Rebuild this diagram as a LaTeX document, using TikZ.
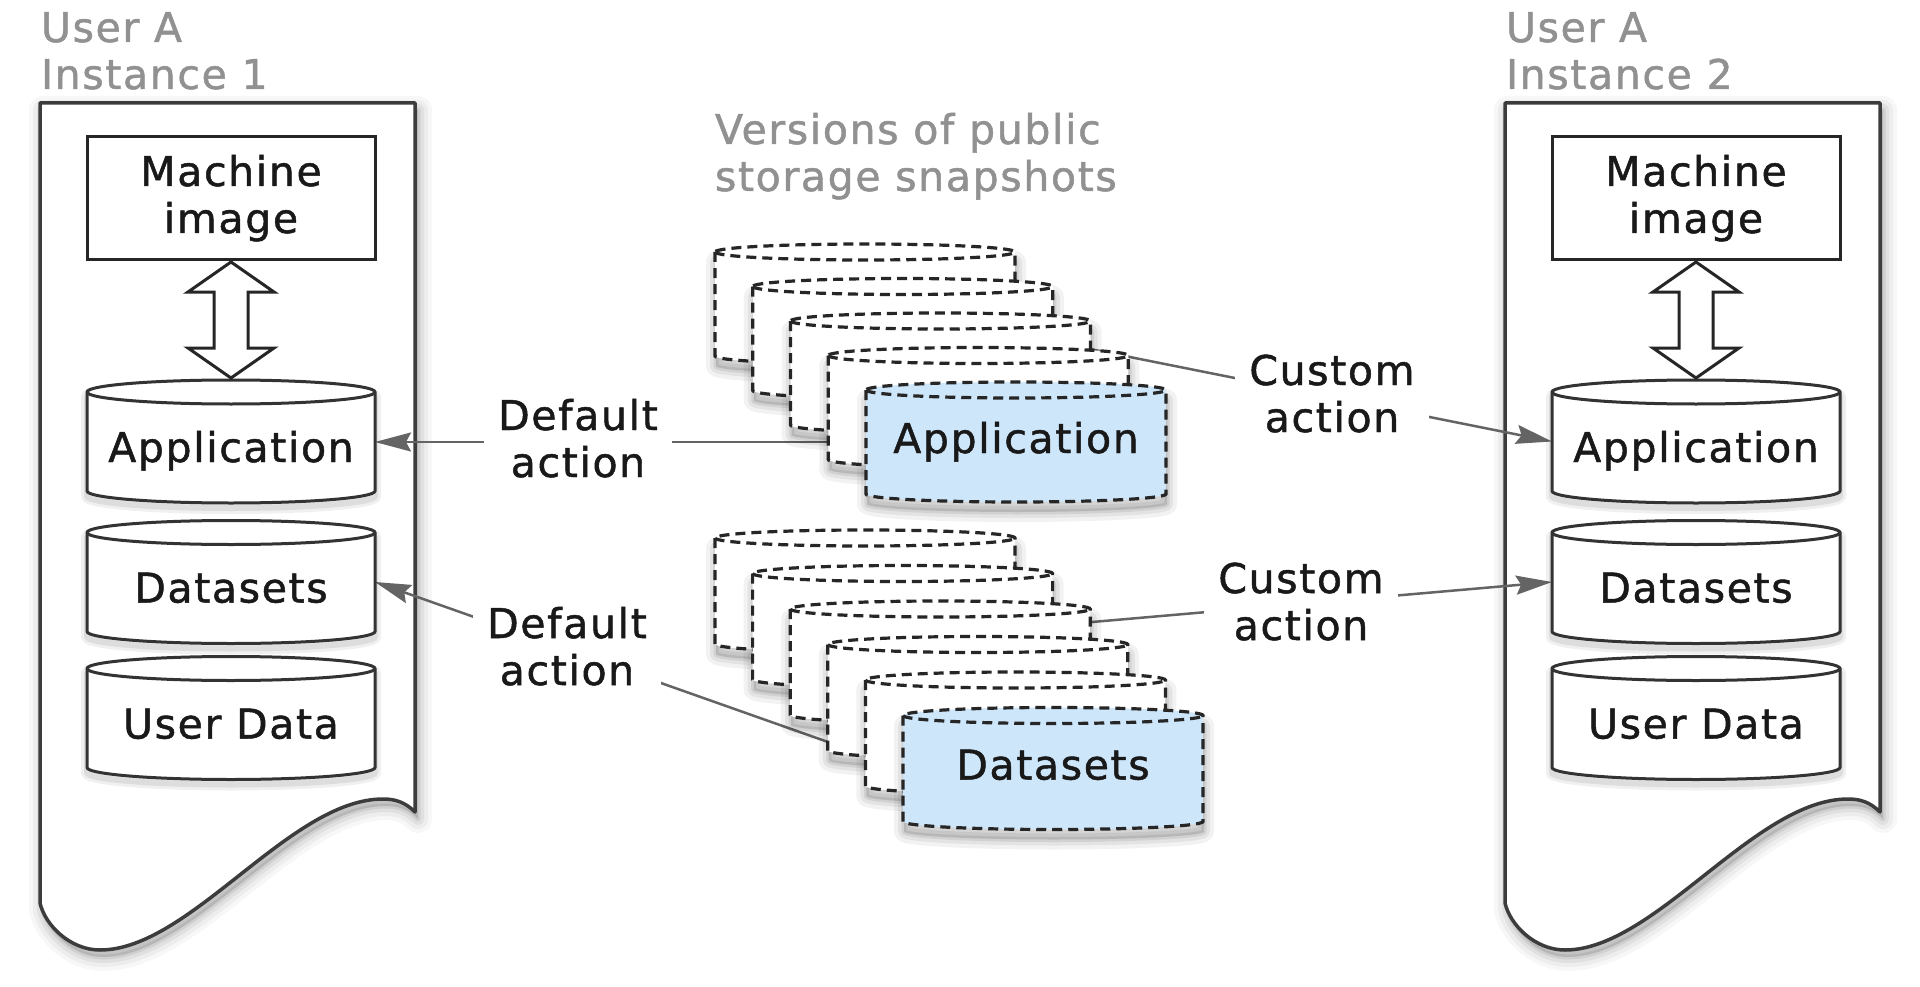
\documentclass[tikz,border=0pt]{standalone}
\usepackage{fontspec}
\setmainfont{DejaVu Sans}[LetterSpace=4,FakeBold=1.2]
\usetikzlibrary{arrows.meta,calc}
\definecolor{lblgray}{RGB}{145,145,145}
\definecolor{doccol}{RGB}{60,60,60}
\definecolor{txt}{RGB}{25,25,25}
\definecolor{conncol}{RGB}{100,100,100}
\definecolor{snapblue}{RGB}{205,230,250}
\pgfdeclarelayer{bg}
\pgfdeclarelayer{lines}
\pgfdeclarelayer{cards}
\pgfsetlayers{bg,lines,cards,main}

\newcommand\sst{\vrule width 0pt height 32pt depth 10pt}

% document page outline, #1 = x offset, #2 = y offset
\newcommand\docpath[2]{(40+#1,103+#2) -- (415+#1,103+#2) -- (415+#1,812+#2)
  .. controls (405+#1,802+#2) and (395+#1,799+#2) .. (383+#1,799+#2)
  .. controls (290+#1,799+#2) and (190+#1,950+#2) .. (100+#1,950+#2)
  .. controls (70+#1,950+#2) and (45+#1,925+#2) .. (40+#1,903+#2) -- cycle}

% cylinder outline around a body node #1, radii #2, #3
\newcommand\cylpath[3]{(#1.north west) -- (#1.south west)
  arc[start angle=180,end angle=360,x radius=#2pt,y radius=#3pt] -- (#1.north east)
  arc[start angle=0,end angle=180,x radius=#2pt,y radius=#3pt] -- cycle}
\newcommand\cylpathsh[5]{($(#1.north west)+(#4,#5)$) -- ($(#1.south west)+(#4,#5)$)
  arc[start angle=180,end angle=360,x radius=#2pt,y radius=#3pt] -- ($(#1.north east)+(#4,#5)$)
  arc[start angle=0,end angle=180,x radius=#2pt,y radius=#3pt] -- cycle}

\tikzset{
  every node/.style={inner sep=0pt, outer sep=0pt},
  lbl/.style={text=lblgray, align=left, anchor=west},
  mibox/.style={draw=black!85, line width=3pt, fill=white, minimum width=288pt,
    minimum height=123pt, text=txt, align=center},
  cylbody/.style={minimum width=288pt, minimum height=99pt, text=txt,
    text height=41pt, text depth=0pt},
  cylline/.style={draw=black!80, line width=3pt, fill=white},
  cardbody/.style={minimum width=300pt, text=txt, text height=22pt, text depth=0pt},
  cardline/.style={draw=black!85, line width=3.2pt, dash pattern=on 10pt off 6pt},
  conn/.style={draw=conncol, line width=2.5pt,
    -{Stealth[length=36pt,width=19pt,inset=5pt]}},
  actlbl/.style={fill=white, inner xsep=14pt, inner ysep=4pt, align=center, text=txt},
  dblarrow/.style={draw=black!85, line width=3pt, fill=white, line join=miter},
  docline/.style={draw=doccol, line width=3.5pt, fill=white, line join=round},
}

% document cylinder: name, x, y, text
\newcommand\dcyl[4]{%
  \node[cylbody] (#1) at (#2,#3) {#4};
  \begin{pgfonlayer}{cards}
    \foreach \ww/\oo in {12/0.06,6/0.08}
      \draw[black,opacity=\oo,line width=\ww pt] \cylpathsh{#1}{144}{12}{0}{5};
    \draw[cylline] \cylpath{#1}{144}{12};
    \draw[cylline,fill=none] (#1.north west)
      arc[start angle=180,end angle=360,x radius=144pt,y radius=12pt];
  \end{pgfonlayer}}

% snapshot card: name, x, y, body height, fill, text
\newcommand\card[6]{%
  \node[cardbody, minimum height=#4pt] (#1) at (#2,#3) {#6};
  \begin{pgfonlayer}{cards}
    \foreach \ww/\oo in {20/0.05,12/0.06,5/0.08}
      \draw[black,opacity=\oo,line width=\ww pt,line join=round] \cylpathsh{#1}{150}{8}{1}{10};
    \fill[black,opacity=0.12] \cylpathsh{#1}{150}{8}{1}{10};
    \draw[cardline,fill=#5] \cylpath{#1}{150}{8};
    \draw[cardline] (#1.north west)
      arc[start angle=180,end angle=360,x radius=150pt,y radius=8pt];
  \end{pgfonlayer}}

% document with shadow: x offset
\newcommand\docshape[1]{%
  \foreach \ww/\oo in {28/0.03,20/0.04,12/0.05,5/0.07}
    \draw[black,opacity=\oo,line width=\ww pt,line join=round] \docpath{#1+3}{7};
  \fill[black,opacity=0.12] \docpath{#1+3}{7};
  \draw[docline] \docpath{#1}{0};}

\begin{document}
\begin{tikzpicture}[x=1pt,y=-1pt,font=\fontsize{41}{47}\selectfont]
\useasboundingbox (0,0) rectangle (1920,987);
\begin{pgfonlayer}{bg}
  \fill[white] (0,0) rectangle (1920,987);
  \docshape{0}
  \docshape{1465}
\end{pgfonlayer}

% titles
\node[lbl] (titleL) at (41,54.5) {\sst User A\\\sst Instance 1};
\node[lbl] (titleR) at (1506,54.5) {\sst User A\\\sst Instance 2};
\node[lbl] (titleM) at (715,156.5) {\sst Versions of public\\\sst storage snapshots};

% left instance
\node[mibox] (miL) at (231,198.5) {\sst Machine\\\sst image};
\dcyl{appL}{231}{441.5}{Application}
\dcyl{dataL}{231}{582}{Datasets}
\dcyl{userL}{231}{718}{User Data}
\draw[dblarrow] ($(miL.south)+(0,2)$) -- ++(43,30) -- ++(-26,0) -- ++(0,56) -- ++(26,0)
  -- ++(-43,30) -- ++(-43,-30) -- ++(26,0) -- ++(0,-56) -- ++(-26,0) -- cycle;

% right instance
\node[mibox] (miR) at (1696,198.5) {\sst Machine\\\sst image};
\dcyl{appR}{1696}{441.5}{Application}
\dcyl{dataR}{1696}{582}{Datasets}
\dcyl{userR}{1696}{718}{User Data}
\draw[dblarrow] ($(miR.south)+(0,2)$) -- ++(43,30) -- ++(-26,0) -- ++(0,56) -- ++(26,0)
  -- ++(-43,30) -- ++(-43,-30) -- ++(26,0) -- ++(0,-56) -- ++(-26,0) -- cycle;

% application snapshots
\foreach \i in {0,...,3} {\card{a\i}{865+37.75*\i}{304+34.5*\i}{104}{white}{}}
\card{a4}{1016}{442}{104}{snapblue}{Application}

% dataset snapshots
\foreach \i in {0,...,4} {\card{d\i}{865+37.6*\i}{591+35.5*\i}{106}{white}{}}
\card{d5}{1053}{768.5}{106}{snapblue}{Datasets}

% connectors
\begin{pgfonlayer}{lines}
  \draw[conn] (a4.west) -- (a4.west -| appL.east);
  \draw[conn] (d5.west) -- (dataL.east);
  \draw[conn] (a0.center) -- (appR.west);
  \draw[conn] ($(d1.center)+(0,12)$) -- (dataR.west);
\end{pgfonlayer}

% action labels
\node[actlbl] (defU) at (578,442.5) {\sst Default\\\sst action};
\node[actlbl] (defD) at (567,650.5) {\sst Default\\\sst action};
\node[actlbl] (cusU) at (1332,397.5) {\sst Custom\\\sst action};
\node[actlbl] (cusD) at (1301,605.5) {\sst Custom\\\sst action};
\end{tikzpicture}
\end{document}
